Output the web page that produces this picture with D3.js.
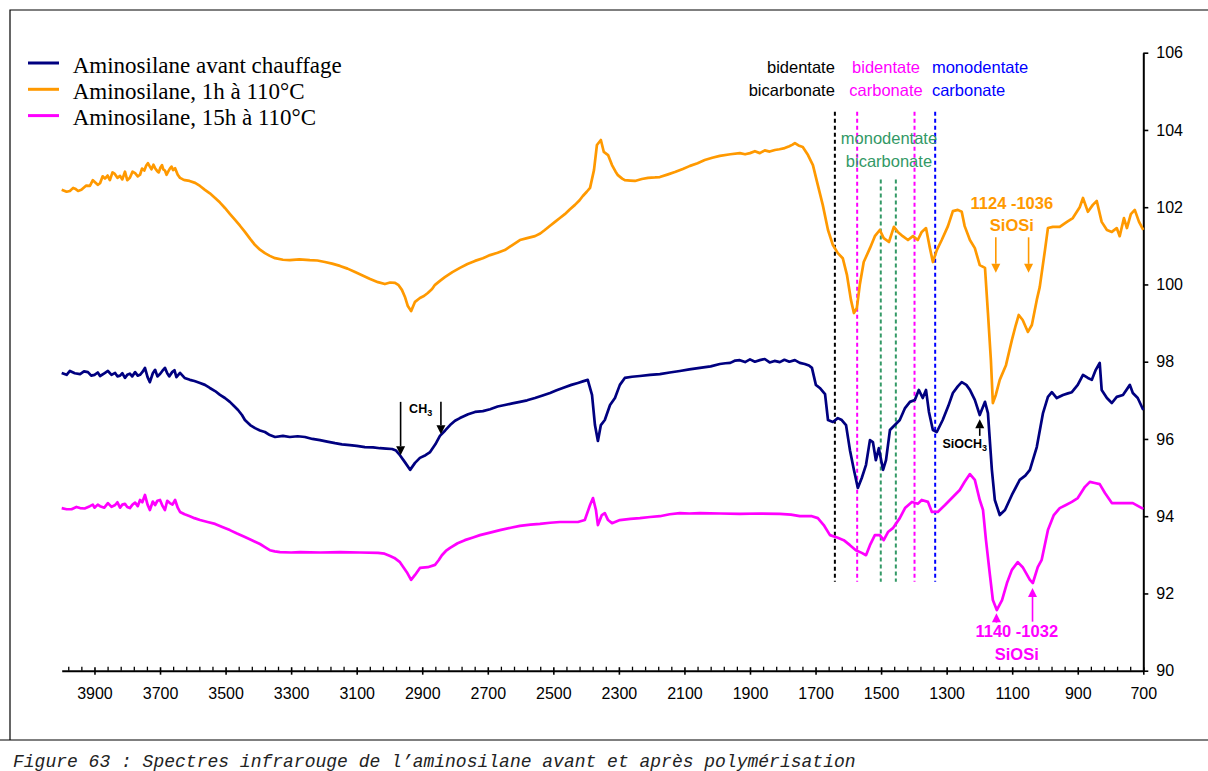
<!DOCTYPE html>
<html>
<head>
<meta charset="utf-8">
<script src="https://cdn.jsdelivr.net/npm/d3@7"></script>
<style>
  body { margin: 0; background: #fff; }
  svg { display: block; }
</style>
</head>
<body>
<svg id="chart" width="1208" height="771"></svg>
<script>
// Series names and colours (legend order)
const seriesNames = ["Aminosilane avant chauffage", "Aminosilane, 1h à 110°C", "Aminosilane, 15h à 110°C"];
const seriesColors = ["#000080", "#ff9900", "#ff00ff"];

// IR spectra: [wavenumber (cm-1), transmittance]
const avantChauffage = [
  [4000,97.71],[3985,97.66],[3975,97.76],[3960,97.70],[3944,97.68],[3932,97.75],[3920,97.73],[3910,97.64],[3900,97.66],[3890,97.72],
  [3883,97.63],[3870,97.70],[3859,97.76],[3848,97.66],[3837,97.71],[3830,97.62],[3822,97.64],[3815,97.70],[3807,97.58],[3800,97.66],
  [3792,97.69],[3785,97.62],[3776,97.73],[3768,97.64],[3761,97.66],[3753,97.74],[3746,97.84],[3738,97.60],[3731,97.47],[3722,97.70],
  [3715,97.79],[3708,97.62],[3700,97.68],[3693,97.76],[3685,97.84],[3678,97.70],[3672,97.62],[3663,97.73],[3656,97.78],[3650,97.60],
  [3639,97.71],[3625,97.58],[3609,97.53],[3595,97.50],[3578,97.45],[3563,97.40],[3548,97.32],[3532,97.24],[3517,97.14],[3502,97.06],
  [3487,96.96],[3475,96.86],[3462,96.75],[3450,96.62],[3441,96.49],[3425,96.36],[3410,96.28],[3395,96.22],[3380,96.18],[3365,96.10],
  [3349,96.05],[3325,96.08],[3304,96.05],[3280,96.07],[3258,96.05],[3235,96.00],[3212,95.97],[3190,95.93],[3166,95.89],[3145,95.86],
  [3121,95.84],[3100,95.82],[3075,95.79],[3050,95.78],[3029,95.76],[3010,95.75],[2992,95.74],[2980,95.70],[2968,95.58],[2953,95.40],
  [2937,95.20],[2922,95.38],[2907,95.51],[2890,95.58],[2876,95.66],[2860,95.86],[2846,96.08],[2830,96.22],[2815,96.36],[2800,96.47],
  [2785,96.54],[2760,96.64],[2739,96.70],[2715,96.72],[2693,96.77],[2670,96.84],[2648,96.88],[2625,96.92],[2602,96.96],[2580,97.00],
  [2556,97.06],[2535,97.12],[2510,97.19],[2490,97.26],[2465,97.34],[2445,97.40],[2425,97.45],[2410,97.49],[2395,97.53],[2382,97.14],
  [2373,96.36],[2364,95.95],[2355,96.36],[2343,96.49],[2327,96.88],[2312,97.06],[2297,97.40],[2282,97.58],[2260,97.61],[2236,97.63],
  [2205,97.66],[2175,97.68],[2145,97.72],[2114,97.76],[2085,97.80],[2053,97.84],[2020,97.88],[1992,97.94],[1975,97.96],[1960,97.97],
  [1945,98.03],[1931,98.04],[1915,97.99],[1900,98.06],[1885,98.00],[1870,98.04],[1855,98.07],[1840,97.98],[1825,98.02],[1809,97.99],
  [1795,98.05],[1780,98.00],[1763,98.04],[1748,97.97],[1733,97.94],[1720,97.90],[1711,97.84],[1699,97.40],[1687,97.32],[1671,97.16],
  [1662,96.49],[1647,96.44],[1632,96.54],[1620,96.49],[1607,96.36],[1595,95.71],[1583,95.20],[1571,94.73],[1559,94.99],[1546,95.33],
  [1534,95.97],[1525,95.92],[1516,95.45],[1507,95.76],[1494,95.20],[1485,95.45],[1473,96.23],[1458,96.36],[1443,96.49],[1427,96.80],
  [1412,96.96],[1397,97.01],[1385,97.27],[1373,97.06],[1363,97.27],[1354,96.70],[1342,96.23],[1330,96.18],[1312,96.49],[1295,96.85],
  [1281,97.19],[1266,97.36],[1254,97.47],[1240,97.40],[1229,97.27],[1214,97.01],[1199,96.62],[1183,96.96],[1174,96.67],[1162,95.20],
  [1153,94.42],[1138,94.03],[1122,94.16],[1101,94.55],[1077,94.94],[1060,95.05],[1046,95.20],[1025,95.79],[1006,96.67],[991,97.09],
  [979,97.21],[964,97.06],[945,97.14],[930,97.18],[918,97.21],[900,97.40],[884,97.66],[869,97.58],[857,97.53],[845,97.79],
  [833,97.97],[827,97.27],[811,97.06],[796,96.93],[781,97.09],[762,97.14],[741,97.40],[732,97.19],[717,97.06],[700,96.75]
];

const chauffe1h = [
  [4000,102.45],[3985,102.40],[3975,102.42],[3965,102.50],[3959,102.48],[3950,102.42],[3940,102.45],[3925,102.56],[3914,102.55],[3905,102.70],
  [3900,102.66],[3890,102.58],[3883,102.62],[3875,102.80],[3868,102.74],[3860,102.82],[3853,102.70],[3845,102.90],[3838,102.86],[3830,102.76],
  [3822,102.81],[3815,102.72],[3807,102.92],[3800,102.70],[3792,102.76],[3784,102.92],[3776,102.88],[3768,102.80],[3761,102.84],[3755,103.00],
  [3748,102.95],[3742,103.08],[3737,103.14],[3731,103.05],[3726,102.98],[3720,103.10],[3715,103.01],[3709,102.94],[3704,102.90],[3699,103.02],
  [3694,103.09],[3690,102.98],[3685,102.95],[3680,102.84],[3676,102.91],[3670,103.00],[3665,103.05],[3660,102.96],[3654,103.01],[3646,102.84],
  [3639,102.76],[3630,102.72],[3624,102.70],[3610,102.68],[3593,102.63],[3578,102.55],[3563,102.45],[3548,102.36],[3532,102.24],[3517,102.12],
  [3502,101.98],[3487,101.83],[3471,101.67],[3456,101.52],[3441,101.36],[3425,101.18],[3410,101.02],[3395,100.90],[3380,100.81],[3365,100.74],
  [3349,100.68],[3325,100.64],[3304,100.63],[3275,100.65],[3243,100.63],[3220,100.62],[3197,100.58],[3175,100.54],[3151,100.48],[3128,100.41],
  [3105,100.32],[3082,100.23],[3059,100.14],[3035,100.06],[3014,100.01],[2998,100.05],[2983,100.04],[2972,99.98],[2962,99.86],[2952,99.66],
  [2944,99.44],[2934,99.31],[2922,99.55],[2907,99.65],[2895,99.70],[2883,99.78],[2870,99.88],[2861,99.99],[2845,100.10],[2831,100.19],
  [2808,100.32],[2785,100.43],[2762,100.53],[2739,100.61],[2715,100.68],[2693,100.76],[2670,100.82],[2648,100.89],[2625,101.02],[2602,101.15],
  [2580,101.20],[2556,101.25],[2540,101.32],[2526,101.41],[2510,101.52],[2495,101.62],[2480,101.72],[2465,101.82],[2450,101.94],[2434,102.06],
  [2420,102.18],[2410,102.29],[2398,102.40],[2388,102.50],[2376,102.96],[2367,103.61],[2355,103.74],[2346,103.43],[2333,103.35],[2321,103.09],
  [2310,102.92],[2303,102.83],[2290,102.74],[2282,102.70],[2265,102.69],[2251,102.68],[2230,102.73],[2211,102.76],[2190,102.77],[2175,102.78],
  [2150,102.85],[2129,102.91],[2105,102.99],[2083,103.07],[2060,103.14],[2038,103.22],[2015,103.28],[1992,103.33],[1960,103.37],[1931,103.40],
  [1915,103.37],[1900,103.40],[1885,103.45],[1870,103.40],[1855,103.47],[1840,103.44],[1824,103.48],[1810,103.50],[1794,103.53],[1780,103.58],
  [1770,103.62],[1763,103.66],[1752,103.60],[1739,103.56],[1723,103.35],[1708,103.09],[1693,102.57],[1678,102.06],[1662,101.41],[1647,101.02],
  [1632,100.81],[1617,100.68],[1604,100.24],[1592,99.60],[1583,99.26],[1574,99.39],[1565,99.99],[1553,100.58],[1534,100.94],[1519,101.25],
  [1504,101.41],[1492,101.20],[1476,101.10],[1461,101.49],[1449,101.36],[1434,101.25],[1418,101.15],[1403,101.25],[1388,101.15],[1376,101.36],
  [1363,101.46],[1351,100.94],[1342,100.58],[1330,100.89],[1315,101.15],[1296,101.51],[1281,101.90],[1266,101.93],[1254,101.88],[1245,101.51],
  [1229,101.15],[1214,100.94],[1199,100.50],[1183,100.43],[1174,99.26],[1165,98.04],[1159,96.93],[1150,97.14],[1138,97.53],[1119,97.91],
  [1101,98.56],[1089,98.95],[1080,99.21],[1068,99.08],[1052,98.77],[1040,98.95],[1025,99.60],[1016,99.93],[1000,100.89],[991,101.46],
  [976,101.49],[955,101.49],[933,101.62],[915,101.72],[894,102.00],[884,102.24],[869,101.88],[854,102.06],[842,102.16],[827,101.62],
  [811,101.41],[796,101.36],[781,101.46],[772,101.25],[759,101.72],[750,101.46],[738,101.82],[726,101.93],[713,101.62],[700,101.41]
];

const chauffe15h = [
  [4000,94.21],[3985,94.18],[3970,94.18],[3955,94.24],[3944,94.21],[3930,94.20],[3914,94.26],[3905,94.30],[3900,94.22],[3890,94.30],
  [3883,94.26],[3870,94.22],[3859,94.34],[3848,94.24],[3837,94.29],[3830,94.36],[3822,94.22],[3815,94.30],[3807,94.32],[3800,94.24],
  [3792,94.21],[3784,94.30],[3776,94.35],[3768,94.26],[3761,94.42],[3754,94.36],[3746,94.55],[3738,94.30],[3731,94.16],[3722,94.38],
  [3715,94.29],[3708,94.40],[3700,94.42],[3692,94.26],[3685,94.16],[3678,94.40],[3670,94.34],[3662,94.30],[3654,94.42],[3646,94.22],
  [3639,94.11],[3625,94.05],[3609,94.00],[3595,93.95],[3578,93.90],[3555,93.85],[3532,93.80],[3510,93.72],[3487,93.64],[3465,93.55],
  [3441,93.46],[3418,93.37],[3395,93.28],[3380,93.20],[3365,93.12],[3350,93.09],[3334,93.07],[3300,93.06],[3273,93.07],[3210,93.06],
  [3151,93.07],[3090,93.06],[3035,93.05],[3015,93.03],[2998,92.97],[2985,92.92],[2968,92.81],[2947,92.55],[2934,92.35],[2922,92.48],
  [2907,92.66],[2883,92.68],[2861,92.74],[2850,92.86],[2840,92.99],[2828,93.10],[2815,93.18],[2792,93.30],[2770,93.38],[2745,93.45],
  [2724,93.51],[2690,93.58],[2663,93.64],[2630,93.70],[2602,93.75],[2570,93.78],[2541,93.80],[2510,93.83],[2480,93.85],[2450,93.85],
  [2425,93.85],[2404,93.90],[2388,94.29],[2379,94.47],[2370,94.16],[2364,93.77],[2352,94.03],[2343,94.08],[2333,93.90],[2321,93.82],
  [2297,93.90],[2265,93.93],[2236,93.95],[2205,93.98],[2175,94.00],[2145,94.05],[2114,94.08],[2085,94.07],[2053,94.08],[1990,94.07],
  [1931,94.06],[1870,94.07],[1809,94.06],[1775,94.04],[1748,94.00],[1711,94.00],[1693,93.95],[1675,93.77],[1656,93.51],[1632,93.44],
  [1614,93.38],[1595,93.25],[1577,93.12],[1559,93.05],[1546,92.99],[1534,93.25],[1519,93.51],[1504,93.51],[1492,93.38],[1479,93.59],
  [1464,93.69],[1443,93.95],[1427,94.21],[1406,94.37],[1388,94.32],[1376,94.42],[1357,94.37],[1345,94.11],[1327,94.11],[1305,94.29],
  [1290,94.42],[1275,94.55],[1260,94.68],[1245,94.89],[1229,95.09],[1214,94.94],[1199,94.42],[1189,94.16],[1180,93.38],[1168,92.48],
  [1159,91.83],[1147,91.57],[1131,91.83],[1116,92.27],[1101,92.61],[1083,92.81],[1068,92.68],[1046,92.35],[1037,92.27],[1022,92.68],
  [1010,92.87],[991,93.64],[973,94.03],[955,94.21],[936,94.29],[918,94.37],[900,94.47],[878,94.76],[863,94.89],[848,94.86],
  [833,94.83],[817,94.60],[796,94.34],[762,94.34],[732,94.34],[700,94.19]
];

const seriesData = [avantChauffage, chauffe1h, chauffe15h];

// Axis ticks
const xMajorTicks = [3900, 3700, 3500, 3300, 3100, 2900, 2700, 2500, 2300, 2100, 1900, 1700, 1500, 1300, 1100, 900, 700];
const xMinorTicks = d3.range(3980, 700, -40).filter(v => (3900 - v) % 200 !== 0);
const yTicks = [90, 92, 94, 96, 98, 100, 102, 104, 106];

// Carbonate band guides: wavenumber, colour, top/bottom value
const guideWavenumbers = [1641, 1573, 1501, 1455, 1398, 1335];
const guideColors = ["#000000", "#ff00ff", "#339966", "#339966", "#ff00ff", "#0000ff"];
const guideTops = [104.47, 104.47, 102.72, 102.72, 104.47, 104.47];
const guideBottom = 92.30;

// Band labels: anchor wavenumber, baseline values, alignment
const bandLabels = [
  { lines: ["bidentate", "bicarbonate"], w: 1641, v: [105.47, 104.88], anchor: "end", color: "#000000", bold: false },
  { lines: ["bidentate", "carbonate"], w: 1485, v: [105.47, 104.88], anchor: "middle", color: "#ff00ff", bold: false },
  { lines: ["monodentate", "carbonate"], w: 1345, v: [105.47, 104.88], anchor: "start", color: "#0000ff", bold: false },
  { lines: ["monodentate", "bicarbonate"], w: 1476, v: [103.64, 103.05], anchor: "middle", color: "#339966", bold: false },
  { lines: ["1124 -1036", "SiOSi"], w: 1101, v: [101.95, 101.39], anchor: "middle", color: "#ff9900", bold: true },
  { lines: ["1140 -1032", "SiOSi"], w: 1086, v: [90.86, 90.28], anchor: "middle", color: "#ff00ff", bold: true }
];

// Arrows: wavenumber, tail value, tip value
const arrows = [
  { w: 2966, from: 96.96, to: 95.58, color: "#000000" },
  { w: 2843, from: 96.96, to: 96.12, color: "#000000" },
  { w: 1199, from: 96.08, to: 96.51, color: "#000000" },
  { w: 1150, from: 101.22, to: 100.30, color: "#ff9900" },
  { w: 1050, from: 101.22, to: 100.30, color: "#ff9900" },
  { w: 1148, from: 91.24, to: 91.49, color: "#ff00ff" },
  { w: 1038, from: 91.27, to: 92.14, color: "#ff00ff" }
];

// Group labels with subscripts
const groupLabels = [
  { main: "CH", sub: "3", w: 2940, v: 96.66 },
  { main: "SiOCH", sub: "3", w: 1313, v: 95.76 }
];

const svg = d3.select("#chart");

// Outer frame and caption rule
svg.append("path")
  .attr("d", "M1215,10H10V740")
  .attr("fill", "none").attr("stroke", "#000").attr("stroke-width", 1.2);
svg.append("line")
  .attr("x1", 0).attr("x2", 1208).attr("y1", 740).attr("y2", 740)
  .attr("stroke", "#000").attr("stroke-width", 1.2);

const x = d3.scaleLinear().domain([4000, 700]).range([61.7, 1143.3]);
const y = d3.scaleLinear().domain([90, 106]).range([670.7, 52.7]);

// Bottom axis: minor ticks above the line, major ticks crossing it
const minorAxis = d3.axisBottom(x).tickValues(xMinorTicks).tickSize(0).tickFormat("");
const gMinor = svg.append("g").attr("transform", `translate(0,${y(90)})`).call(minorAxis);
gMinor.select(".domain").remove();
gMinor.selectAll(".tick line").attr("y1", -4).attr("y2", 0).attr("stroke", "#000").attr("stroke-width", 1.3);

const xAxis = d3.axisBottom(x).tickValues(xMajorTicks).tickSizeInner(4).tickSizeOuter(0).tickPadding(13).tickFormat(d3.format("d"));
const gx = svg.append("g").attr("transform", `translate(0,${y(90)})`).call(xAxis);
gx.select(".domain").attr("stroke", "#000").attr("stroke-width", 2);
gx.selectAll(".tick line").attr("y1", -3.5).attr("y2", 4).attr("stroke", "#000").attr("stroke-width", 1.6);
gx.selectAll(".tick text")
  .attr("font-family", "'Liberation Sans', Arial, sans-serif")
  .attr("font-size", 16).attr("fill", "#000");

// Right axis
const yAxis = d3.axisRight(y).tickValues(yTicks).tickSizeInner(5).tickSizeOuter(0).tickPadding(8);
const gy = svg.append("g").attr("transform", `translate(${x(700)},0)`).call(yAxis);
gy.select(".domain").attr("stroke", "#000").attr("stroke-width", 2);
gy.selectAll(".tick line").attr("stroke", "#000").attr("stroke-width", 1.6);
gy.selectAll(".tick text")
  .attr("font-family", "'Liberation Sans', Arial, sans-serif")
  .attr("font-size", 16).attr("fill", "#000");

// Dashed band guides
svg.append("g").selectAll("line")
  .data(guideWavenumbers)
  .join("line")
  .attr("x1", d => x(d)).attr("x2", d => x(d))
  .attr("y1", (d, i) => y(guideTops[i])).attr("y2", y(guideBottom))
  .attr("stroke", (d, i) => guideColors[i])
  .attr("stroke-width", 2)
  .attr("stroke-dasharray", "4,3");

// Spectra
const line = d3.line().x(d => x(d[0])).y(d => y(d[1]));
svg.append("g").selectAll("path")
  .data([2, 1, 0])
  .join("path")
  .attr("d", i => line(seriesData[i]))
  .attr("fill", "none")
  .attr("stroke", i => seriesColors[i])
  .attr("stroke-width", 2.7)
  .attr("stroke-linejoin", "round");

// Band labels
const gLabels = svg.append("g");
bandLabels.forEach(lb => {
  lb.lines.forEach((t, k) => {
    gLabels.append("text")
      .attr("x", x(lb.w)).attr("y", y(lb.v[k]))
      .attr("text-anchor", lb.anchor)
      .attr("font-family", "'Liberation Sans', Arial, sans-serif")
      .attr("font-size", 16.5)
      .attr("font-weight", lb.bold ? "bold" : "normal")
      .attr("fill", lb.color)
      .text(t);
  });
});

// Arrows
const gArrows = svg.append("g");
arrows.forEach(a => {
  const ax = x(a.w), y0 = y(a.from), y1 = y(a.to);
  const dir = y1 > y0 ? 1 : -1;
  const head = 9, half = 4.5;
  const shaftEnd = y1 - dir * head;
  if ((shaftEnd - y0) * dir > 0) {
    gArrows.append("line")
      .attr("x1", ax).attr("x2", ax).attr("y1", y0).attr("y2", shaftEnd)
      .attr("stroke", a.color).attr("stroke-width", 1.6);
  }
  gArrows.append("path")
    .attr("d", `M${ax},${y1}L${ax - half},${shaftEnd}L${ax + half},${shaftEnd}Z`)
    .attr("fill", a.color);
});

// Group labels with subscript digits
groupLabels.forEach(g => {
  const t = svg.append("text")
    .attr("x", x(g.w)).attr("y", y(g.v))
    .attr("font-family", "'Liberation Sans', Arial, sans-serif")
    .attr("font-size", 12.5).attr("font-weight", "bold").attr("fill", "#000");
  t.append("tspan").text(g.main);
  t.append("tspan").attr("font-size", 9).attr("dy", 3).text(g.sub);
});

// Legend
const legend = svg.append("g").attr("transform", "translate(28,63)");
seriesNames.forEach((name, i) => {
  const row = legend.append("g").attr("transform", `translate(0,${i * 26.3})`);
  row.append("line").attr("x1", 0).attr("x2", 31).attr("y1", 0).attr("y2", 0)
    .attr("stroke", seriesColors[i]).attr("stroke-width", 3);
  row.append("text").attr("x", 44.7).attr("y", 9.5)
    .attr("font-family", "'Liberation Serif', 'Times New Roman', serif")
    .attr("font-size", 23).attr("fill", "#000")
    .text(name);
});

// Caption
svg.append("text")
  .attr("x", 13).attr("y", 767)
  .attr("font-family", "'Liberation Mono', 'Courier New', monospace")
  .attr("font-style", "italic")
  .attr("font-size", 18).attr("fill", "#222")
  .text("Figure 63 : Spectres infrarouge de l’aminosilane avant et après polymérisation");
</script>
</body>
</html>
